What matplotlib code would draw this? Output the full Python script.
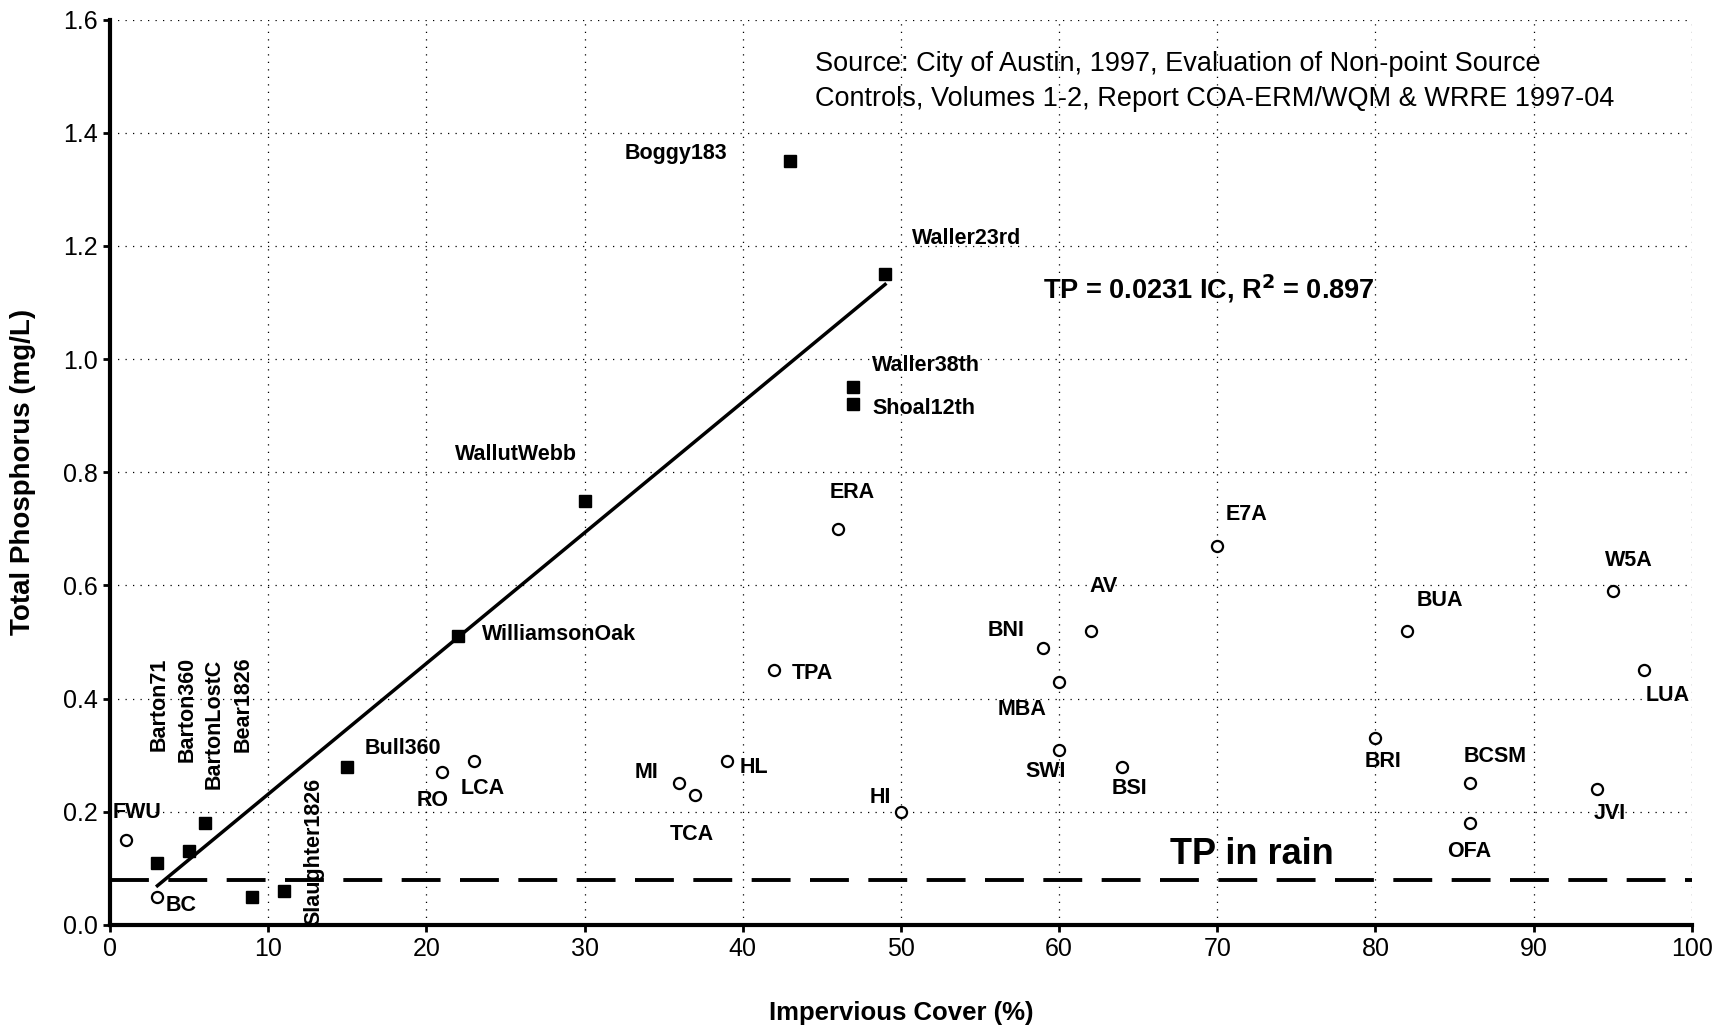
import numpy as np
import matplotlib.pyplot as plt

plt.rcParams['font.family'] = ['Liberation Sans', 'DejaVu Sans']

# sites with measured TP used for the regression (filled squares)
sq_names = ['Barton71', 'Barton360', 'BartonLostC', 'Bear1826', 'Slaughter1826',
            'Bull360', 'WilliamsonOak', 'WallutWebb', 'Boggy183', 'Waller23rd',
            'Waller38th', 'Shoal12th']
sq_ic = [3, 5, 6, 9, 11, 15, 22, 30, 43, 49, 47, 47]
sq_tp = [0.11, 0.13, 0.18, 0.05, 0.06, 0.28, 0.51, 0.75, 1.35, 1.15, 0.95, 0.92]

# other sites (open circles)
ci_names = ['FWU', 'BC', 'RO', 'LCA', 'MI', 'TCA', 'HL', 'TPA', 'HI', 'ERA',
            'BNI', 'MBA', 'SWI', 'AV', 'BSI', 'E7A', 'BRI', 'BUA', 'BCSM',
            'OFA', 'JVI', 'W5A', 'LUA']
ci_ic = [1, 3, 21, 23, 36, 37, 39, 42, 50, 46, 59, 60, 60, 62, 64, 70, 80,
         82, 86, 86, 94, 95, 97]
ci_tp = [0.15, 0.05, 0.27, 0.29, 0.25, 0.23, 0.29, 0.45, 0.20, 0.70, 0.49,
         0.43, 0.31, 0.52, 0.28, 0.67, 0.33, 0.52, 0.25, 0.18, 0.24, 0.59, 0.45]

slope = 0.0231
fit_range = [3, 49]
tp_rain = 0.08

# label anchors in data units: (x, y, horizontal alignment)
lab_pos = {
    'Boggy183': (39.0, 1.363, 'right'), 'Waller23rd': (50.7, 1.213, 'left'),
    'Waller38th': (48.2, 0.989, 'left'), 'Shoal12th': (48.2, 0.913, 'left'),
    'WallutWebb': (29.5, 0.831, 'right'), 'WilliamsonOak': (23.5, 0.514, 'left'),
    'Bull360': (16.1, 0.311, 'left'),
    'ERA': (45.5, 0.765, 'left'), 'E7A': (70.5, 0.726, 'left'),
    'W5A': (94.5, 0.644, 'left'), 'AV': (61.9, 0.598, 'left'),
    'BUA': (82.6, 0.574, 'left'), 'BNI': (57.8, 0.52, 'right'),
    'TPA': (43.1, 0.444, 'left'), 'LUA': (97.1, 0.405, 'left'),
    'MBA': (59.2, 0.38, 'right'), 'BCSM': (85.6, 0.298, 'left'),
    'BRI': (79.3, 0.288, 'left'), 'SWI': (60.4, 0.271, 'right'),
    'HL': (39.8, 0.278, 'left'), 'MI': (34.7, 0.269, 'right'),
    'BSI': (63.3, 0.241, 'left'), 'LCA': (22.2, 0.241, 'left'),
    'RO': (21.4, 0.22, 'right'), 'HI': (49.4, 0.226, 'right'),
    'FWU': (0.15, 0.199, 'left'), 'JVI': (93.8, 0.197, 'left'),
    'TCA': (35.4, 0.16, 'left'), 'OFA': (84.5, 0.13, 'left'),
    'BC': (3.5, 0.035, 'left'),
}
# rotated labels: (x centre, bottom y)
rot_pos = {
    'Barton71': (3.1, 0.307), 'Barton360': (4.9, 0.288),
    'BartonLostC': (6.6, 0.241), 'Bear1826': (8.4, 0.305),
    'Slaughter1826': (12.9, 0.0),
}

fig = plt.figure(figsize=(17.26, 10.30), dpi=100)
ax = fig.add_axes([0.0637, 0.102, 0.9165, 0.879])

ax.set_xlim(0, 100)
ax.set_ylim(0, 1.6)
ax.set_xticks(np.arange(0, 101, 10))
ax.set_yticks(np.arange(0, 1.61, 0.2))
ax.set_yticklabels([f'{v:.1f}' for v in np.arange(0, 1.61, 0.2)])
ax.tick_params(direction='out', length=5, width=2, labelsize=18)
ax.grid(True, color='black', linestyle=(0, (1, 5)), linewidth=0.9)
ax.set_axisbelow(True)
for s in ['top', 'right']:
    ax.spines[s].set_visible(False)
for s in ['left', 'bottom']:
    ax.spines[s].set_linewidth(3)

# TP in rainfall
ax.axhline(tp_rain, color='black', lw=2.8, linestyle=(0, (10, 5)))
ax.text(72.2, 0.125, 'TP in rain', fontsize=26, fontweight='bold',
        ha='center', va='center')

# regression line through origin
xf = np.array(fit_range)
ax.plot(xf, slope * xf, color='black', lw=2.5)

ax.plot(sq_ic, sq_tp, 's', color='black', markersize=8)
ax.plot(ci_ic, ci_tp, 'o', markerfacecolor='white', markeredgecolor='black',
        markersize=8, markeredgewidth=1.6)

for name, (x, y, ha) in lab_pos.items():
    ax.text(x, y, name, fontsize=15.5, fontweight='bold', ha=ha, va='center')
for name, (x, y) in rot_pos.items():
    ax.text(x, y, name, fontsize=15.5, fontweight='bold', rotation=90,
            ha='center', va='bottom')

ax.text(59.0, 1.125, 'TP = 0.0231 IC, R$^\\mathbf{2}$ = 0.897', fontsize=19.5,
        fontweight='bold', ha='left', va='center')
ax.text(44.6, 1.522, 'Source: City of Austin, 1997, Evaluation of Non-point Source',
        fontsize=19.5, ha='left', va='center')
ax.text(44.6, 1.46, 'Controls, Volumes 1-2, Report COA-ERM/WQM & WRRE 1997-04',
        fontsize=19.5, ha='left', va='center')

ax.set_xlabel('Impervious Cover (%)', fontsize=18.5, fontweight='bold')
ax.set_ylabel('Total Phosphorus (mg/L)', fontsize=20, fontweight='bold')
ax.xaxis.set_label_coords(0.5, -0.084)
ax.yaxis.set_label_coords(-0.047, 0.5)

fig.savefig('out.png', dpi=100)
